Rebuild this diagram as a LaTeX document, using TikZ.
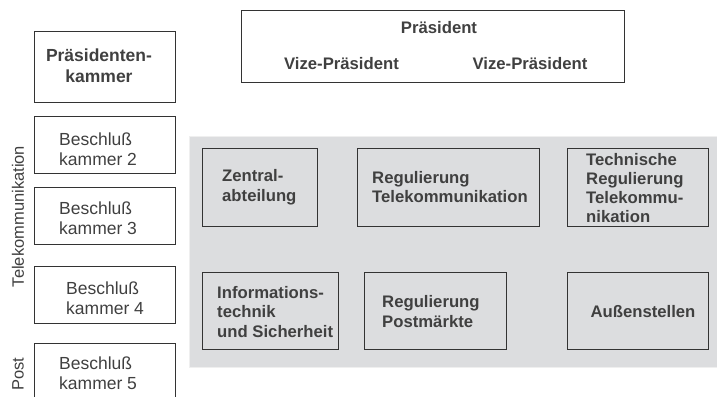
\documentclass[tikz,border=0pt]{standalone}
\usepackage{fontspec}
\setmainfont{Liberation Sans}
\definecolor{panelfill}{HTML}{DCDDDF}
\definecolor{panelline}{HTML}{EFEFEF}
\definecolor{boxline}{HTML}{333333}
\definecolor{txt}{HTML}{404040}
\tikzset{
  box/.style={draw=boxline, line width=1pt, inner sep=0pt},
  boldtxt/.style={text=txt, font=\bfseries\fontsize{16.7}{19.5}\selectfont, align=left, inner sep=0pt},
  regtxt/.style={text=txt, font=\fontsize{17.5}{19.8}\selectfont, align=left, inner sep=0pt},
  sidetxt/.style={text=txt, font=\fontsize{16.5}{19}\selectfont, inner sep=0pt, rotate=90}
}
\begin{document}
\begin{tikzpicture}[x=1pt,y=-1pt]
\useasboundingbox (0,0) rectangle (717,396);
\clip (0,0) rectangle (717,396);
% grey panel
\node[draw=panelline, line width=1pt, fill=panelfill, minimum width=540pt, minimum height=231pt, inner sep=0pt] (panel) at (459,251.5) {};
% top president box
\node[box, minimum width=383pt, minimum height=71pt] (pres) at (432.5,46.5) {};
\node[boldtxt] (prest) at (439,28) {Präsident};
\node[boldtxt] (vize1) at (341.5,64) {Vize-Präsident};
\node[boldtxt] (vize2) at (530,64) {Vize-Präsident};
% left column
\node[box, minimum width=141pt, minimum height=70pt] (pk) at (104.5,67) {};
\node[boldtxt, align=center, font=\bfseries\fontsize{17.5}{21}\selectfont] (pkt) at (99,65.5) {Präsidenten-\\kammer};
\node[box, minimum width=141pt, minimum height=57pt] (b2) at (104.5,144.5) {};
\node[regtxt, anchor=west] (b2t) at (59,149.5) {Beschluß\\kammer 2};
\node[box, minimum width=141pt, minimum height=57pt] (b3) at (104.5,215.5) {};
\node[regtxt, anchor=west] (b3t) at (59,218.5) {Beschluß\\kammer 3};
\node[box, minimum width=141pt, minimum height=57pt] (b4) at (104.5,294.5) {};
\node[regtxt, anchor=west] (b4t) at (66,298) {Beschluß\\kammer 4};
\node[box, minimum width=141pt, minimum height=60pt] (b5) at (104.5,373) {};
\node[regtxt, anchor=west] (b5t) at (59,373) {Beschluß\\kammer 5};
\node[sidetxt] (tk) at (18,216.5) {Telekommunikation};
\node[sidetxt] (post) at (18,374) {Post};
% inner boxes top row
\node[box, minimum width=115pt, minimum height=78pt] (z) at (259.5,187) {};
\node[boldtxt, anchor=west] (zt) at (222,187) {Zentral-\\abteilung};
\node[box, minimum width=182pt, minimum height=78pt] (rt) at (448,187) {};
\node[boldtxt, anchor=west] (rtt) at (372,187) {Regulierung\\Telekommunikation};
\node[box, minimum width=141pt, minimum height=78pt] (tr) at (637.5,187) {};
\node[boldtxt, anchor=west, font=\bfseries\fontsize{16.7}{19.3}\selectfont] (trt) at (586,188) {Technische\\Regulierung\\Telekommu-\\nikation};
% inner boxes bottom row
\node[box, minimum width=136pt, minimum height=77pt] (it) at (270,310.5) {};
\node[boldtxt, anchor=west] (itt) at (217,312) {Informations-\\technik\\und Sicherheit};
\node[box, minimum width=142pt, minimum height=77pt] (rp) at (435,310.5) {};
\node[boldtxt, anchor=west] (rpt) at (382,311.5) {Regulierung\\Postmärkte};
\node[box, minimum width=141pt, minimum height=77pt] (as) at (637.5,310.5) {};
\node[boldtxt] (ast) at (643,312) {Außenstellen};
\end{tikzpicture}
\end{document}
